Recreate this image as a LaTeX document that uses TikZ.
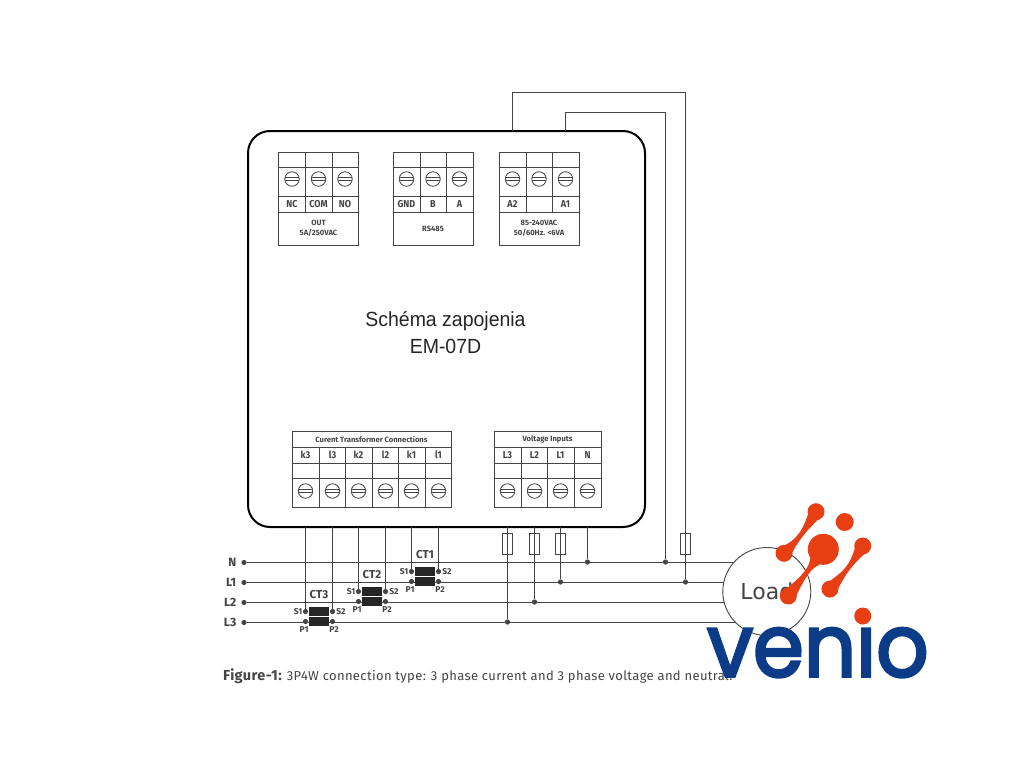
\documentclass[tikz,border=0pt]{standalone}
\usepackage{fontspec}
\setmainfont{Fira Sans}
\newfontfamily\arialf{Liberation Sans}
\newfontfamily\dejaf{DejaVu Sans}
\newfontfamily\logof[FakeBold=3.2]{Poppins}
\definecolor{ink}{HTML}{444444}
\definecolor{logoorange}{HTML}{E83E14}
\definecolor{logoblue}{HTML}{0C3C87}
\tikzset{
  grid line/.style={draw=ink,line width=1.25pt},
  wire/.style={draw=ink,line width=1.25pt},
  lab/.style={font=\bfseries\fontsize{10}{10}\selectfont,text=ink,inner sep=0pt,xscale=0.9,transform shape},
  tiny/.style={font=\bfseries\fontsize{7.6}{10}\selectfont,text=ink,inner sep=0pt,align=center},
  screw/.style={draw=ink,line width=0.8pt,circle,minimum size=14.5pt,inner sep=0pt},
  dot/.style={circle,fill=ink,inner sep=0pt,minimum size=5.2pt},
  fuse/.style={draw=ink,line width=1pt,minimum width=10.5pt,minimum height=21pt,inner sep=0pt},
  ctcore/.style={fill=black!85,minimum width=20pt,minimum height=9pt,inner sep=0pt},
  ctname/.style={font=\bfseries\fontsize{11.5}{10}\selectfont,text=ink,inner sep=0pt},
  ctpin/.style={font=\bfseries\fontsize{8.5}{8}\selectfont,text=ink,inner sep=0pt},
  phase/.style={font=\bfseries\fontsize{12}{10}\selectfont,text=ink,inner sep=0pt,anchor=east},
  blob/.style={fill=logoorange,circle,inner sep=0pt},
}
% screw head at (#1,#2), named #3
\newcommand{\screwat}[3]{%
  \node[screw] (#3) at (#1,#2) {};
  \draw[ink,line width=0.8pt] (#1-7,#2-1.3) -- (#1+7,#2-1.3) (#1-7,#2+1.3) -- (#1+7,#2+1.3);
}
% top block: x0,x1,x2,x3
\newcommand{\topblock}[4]{%
  \draw[grid line] (#1,152.5) rectangle (#4,245.5);
  \draw[grid line] (#1,167.5) -- (#4,167.5) (#1,196.5) -- (#4,196.5) (#1,212.5) -- (#4,212.5);
  \draw[grid line] (#2,152.5) -- (#2,212.5) (#3,152.5) -- (#3,212.5);
}
% current transformer: index, x left wire, x right wire, y of S row
\newcommand{\ctunit}[4]{%
  \node[ctcore] (core#1a) at ({(#2+#3)/2},#4) {};
  \node[ctcore] (core#1b) at ({(#2+#3)/2},#4+10) {};
  \node[dot] (s1#1) at (#2,#4) {};
  \node[dot] (s2#1) at (#3,#4) {};
  \node[dot] (p1#1) at (#2,#4+10) {};
  \node[dot] (p2#1) at (#3,#4+10) {};
  \node[ctname] (ctn#1) at ({(#2+#3)/2},#4-16.5) {CT#1};
  \node[ctpin] (ls1#1) at (#2-7.5,#4) {S1};
  \node[ctpin] (ls2#1) at (#3+8.5,#4) {S2};
  \node[ctpin] (lp1#1) at (#2-1.5,#4+18) {P1};
  \node[ctpin] (lp2#1) at (#3+1.5,#4+18) {P2};
}
% flared logo stem: A, B, waist M, half widths at A and B
\newcommand{\lstem}[8]{%
  \pgfmathsetmacro{\dl}{veclen(#3-#1,#4-#2)}
  \pgfmathsetmacro{\dx}{(#3-#1)/\dl}
  \pgfmathsetmacro{\dy}{(#4-#2)/\dl}
  \pgfmathsetmacro{\ppx}{-\dy}
  \pgfmathsetmacro{\ppy}{\dx}
  \fill[logoorange]
    ({#1+#7*\ppx},{#2+#7*\ppy})
    .. controls ({#5+2.4*\ppx-9*\dx},{#6+2.4*\ppy-9*\dy}) and ({#5+2.4*\ppx-5*\dx},{#6+2.4*\ppy-5*\dy}) .. ({#5+2.4*\ppx},{#6+2.4*\ppy})
    .. controls ({#5+2.4*\ppx+5*\dx},{#6+2.4*\ppy+5*\dy}) and ({#5+2.4*\ppx+9*\dx},{#6+2.4*\ppy+9*\dy}) .. ({#3+#8*\ppx},{#4+#8*\ppy})
    -- ({#3-#8*\ppx},{#4-#8*\ppy})
    .. controls ({#5-2.4*\ppx+9*\dx},{#6-2.4*\ppy+9*\dy}) and ({#5-2.4*\ppx+5*\dx},{#6-2.4*\ppy+5*\dy}) .. ({#5-2.4*\ppx},{#6-2.4*\ppy})
    .. controls ({#5-2.4*\ppx-5*\dx},{#6-2.4*\ppy-5*\dy}) and ({#5-2.4*\ppx-9*\dx},{#6-2.4*\ppy-9*\dy}) .. ({#1-#7*\ppx},{#2-#7*\ppy})
    -- cycle;
}
\begin{document}
\begin{tikzpicture}[x=1pt,y=-1pt]
\useasboundingbox (0,0) rectangle (1024,768);
\fill[white] (0,0) rectangle (1024,768);

% housing
\node[draw=black,line width=2pt,rounded corners=22pt,minimum width=397pt,minimum height=396pt,inner sep=0pt] (main) at (446.5,329) {};

% top terminal blocks
\topblock{278.5}{305.5}{332.5}{358.5}
\topblock{393.5}{420.5}{446.5}{473.5}
\topblock{499.5}{526.5}{552.5}{579.5}
\foreach \x/\n in {292/a,318.5/b,345/c,406.5/d,433/e,459.5/f,512.5/g,539/h,565.5/i}{\screwat{\x}{179}{sc\n}}
\foreach \x/\t/\n in {292/NC/a,318.5/COM/b,345/NO/c,406.5/GND/d,433/B/e,459.5/A/f,512.5/A2/g,565.5/A1/i}{
  \node[lab] (t\n) at (\x,204.5) {\t};}
\node[tiny] (outl) at (318.5,228.5) {OUT\\5A/250VAC};
\node[tiny] (rsl) at (433,229) {RS485};
\node[tiny] (supl) at (539,228.5) {85-240VAC\\50/60Hz. <6VA};

% title
\node[font=\arialf\fontsize{20.5}{27}\selectfont,align=center,text=black!85,inner sep=0pt,xscale=0.95,transform shape] (title) at (445.5,332.5) {Schéma zapojenia\\EM-07D};

% bottom terminal blocks
\draw[grid line] (292.5,431.5) rectangle (451.5,507.5);
\draw[grid line] (292.5,447.5) -- (451.5,447.5) (292.5,463.5) -- (451.5,463.5) (292.5,478.5) -- (451.5,478.5);
\foreach \x in {319.5,345.5,372.5,398.5,425.5}{\draw[grid line] (\x,447.5) -- (\x,507.5);}
\draw[grid line] (494.5,431.5) rectangle (601.5,507.5);
\draw[grid line] (494.5,447.5) -- (601.5,447.5) (494.5,463.5) -- (601.5,463.5) (494.5,478.5) -- (601.5,478.5);
\foreach \x in {521.5,547.5,574.5}{\draw[grid line] (\x,447.5) -- (\x,507.5);}
\node[tiny] (ctt) at (371.5,439) {Curent Transformer Connections};
\node[tiny] (vit) at (547.5,439) {Voltage Inputs};
\foreach \x/\t/\n in {305.5/k3/k3,332.5/l3/l3,358.5/k2/k2,385.5/l2/l2,411.5/k1/k1,438.5/l1/l1,507.5/L3/v3,534.5/L2/v2,560.5/L1/v1,587.5/N/vn}{
  \node[lab] (t\n) at (\x,455) {\t};
  \screwat{\x}{491}{b\n}
  \coordinate (w\n) at (\x,527);
}

% phase lines
\foreach \y/\t/\n in {562.5/N/n,582.5/L1/a,602.5/L2/b,622.5/L3/c}{
  \node[dot] (st\n) at (244,\y) {};
  \node[phase] (ph\n) at (236.5,\y) {\t};
  \coordinate (en\n) at (767,\y);
  \draw[wire] (st\n) -- (en\n);
}

% current transformers
\ctunit{1}{411.5}{438.5}{571.5}
\ctunit{2}{358.5}{385.5}{591.5}
\ctunit{3}{305.5}{332.5}{611.5}
\draw[wire] (wk1) -- (s11) (wl1) -- (s21);
\draw[wire] (wk2) -- (s12) (wl2) -- (s22);
\draw[wire] (wk3) -- (s13) (wl3) -- (s23);

% voltage connections
\node[dot] (jn) at (587.5,562) {};
\node[dot] (j1) at (560.5,582) {};
\node[dot] (j2) at (534.5,602) {};
\node[dot] (j3) at (507.5,622) {};
\node[fuse] (f3) at (507.5,543.5) {};
\node[fuse] (f2) at (534.5,543.5) {};
\node[fuse] (f1) at (560.5,543.5) {};
\draw[wire] (wvn) -- (jn) (wv1) -- (j1) (wv2) -- (j2) (wv3) -- (j3);

% supply connections
\coordinate (a2) at (512.5,131);
\coordinate (a1) at (565.5,131);
\node[dot] (ja) at (665.5,562) {};
\node[dot] (jb) at (685.5,582) {};
\node[fuse] (f4) at (685.5,543.5) {};
\draw[wire] (a2) |- (599,92.5) -| (jb);
\draw[wire] (a1) |- (615,112.5) -| (ja);

% load
\node[circle,draw=ink,line width=0.9pt,fill=white,minimum size=88pt,inner sep=0pt,text=ink,font=\dejaf\fontsize{22}{22}\selectfont] (load) at (766.8,591.5) {Load};

% caption
\node[anchor=base west,inner sep=0pt,text=ink,font=\fontsize{13}{13}\selectfont\addfontfeature{LetterSpace=2.8}] (cap) at (223,680) {{\fontsize{14.5}{13}\selectfont\bfseries Figure-1:} 3P4W connection type: 3 phase current and 3 phase voltage and neutral.};

% logo
\lstem{816}{511.7}{784}{553.3}{800.3}{535.5}{7}{7}
\lstem{823.3}{549.3}{788.3}{596}{807}{572}{13}{7}
\lstem{862.7}{546}{830}{589}{848}{568}{7}{7}
\node[blob,minimum size=17pt] (l1) at (816,511.7) {};
\node[blob,minimum size=17pt] (l2) at (784,553.3) {};
\node[blob,minimum size=18pt] (l3) at (844.7,522) {};
\node[blob,minimum size=31pt] (l4) at (823.3,549.3) {};
\node[blob,minimum size=17pt] (l5) at (788.3,596) {};
\node[blob,minimum size=17pt] (l6) at (862.7,546) {};
\node[blob,minimum size=17pt] (l7) at (830,589) {};
\begin{scope}
\clip (700,626.5) rectangle (940,690);
\node[inner sep=0pt,anchor=base west,text=logoblue,font=\logof\fontsize{87}{87}\selectfont,xscale=0.94,transform shape] (venio) at (707,676.5) {venio};
\end{scope}
\node[blob,minimum size=17pt] (l8) at (862.7,616) {};
\end{tikzpicture}
\end{document}
